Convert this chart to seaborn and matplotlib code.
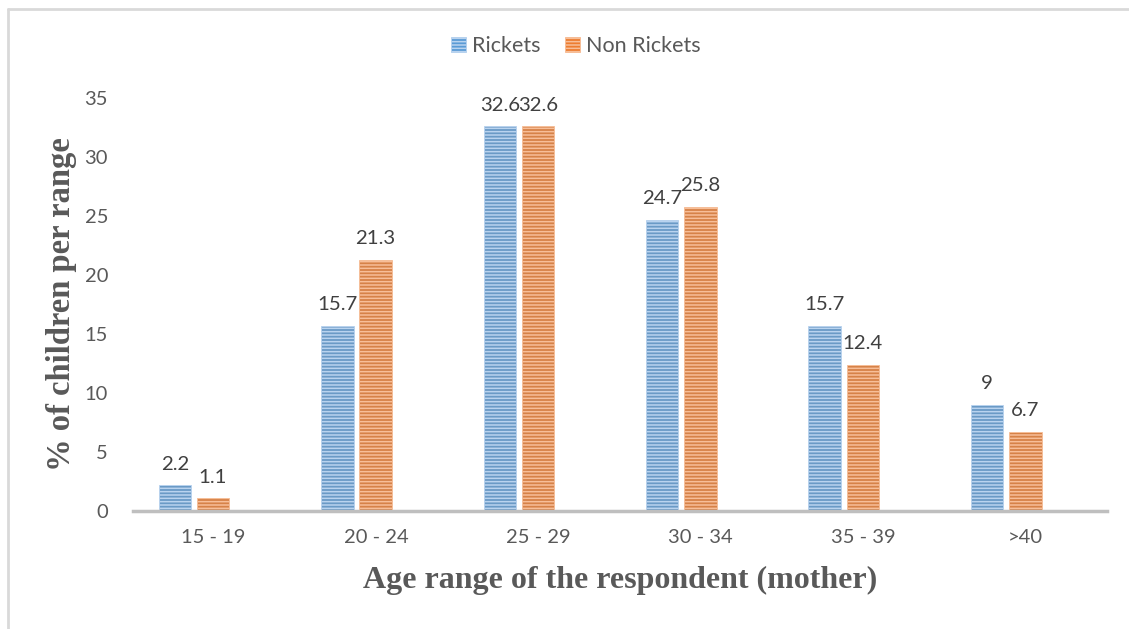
import matplotlib
matplotlib.use("Agg")
import matplotlib.pyplot as plt
from matplotlib.lines import Line2D
from matplotlib.patches import Patch
import seaborn as sns
import pandas as pd

# Data
age_ranges = ["15 - 19", "20 - 24", "25 - 29", "30 - 34", "35 - 39", ">40"]
rickets = [2.2, 15.7, 32.6, 24.7, 15.7, 9]
non_rickets = [1.1, 21.3, 32.6, 25.8, 12.4, 6.7]
groups = ["Rickets", "Non Rickets"]

df = pd.DataFrame({
    "age": age_ranges * 2,
    "pct": rickets + non_rickets,
    "group": [groups[0]] * len(age_ranges) + [groups[1]] * len(age_ranges),
})

sns.set_theme(style="white")
plt.rcParams["font.family"] = ["Lato", "DejaVu Sans"]
plt.rcParams["hatch.linewidth"] = 1.1

fill = {"Rickets": "#5B9BD5", "Non Rickets": "#ED7D31"}
stripe = {"Rickets": "#B9D3EF", "Non Rickets": "#F7BE98"}

fig = plt.figure(figsize=(11.29, 6.29), dpi=100)
ax = fig.add_axes([133 / 1129, 1 - 511 / 629, (1107 - 133) / 1129, (511 - 98) / 629])

sns.barplot(data=df, x="age", y="pct", hue="group", order=age_ranges,
            hue_order=groups, palette=fill, width=0.47, gap=0.15,
            errorbar=None, legend=False, ax=ax)

# striped fill and value labels
for container, g in zip(ax.containers, groups):
    for bar in container:
        bar.set_hatch("-----")
        bar.set_edgecolor(stripe[g])
        bar.set_linewidth(0.6)
    ax.bar_label(container, labels=[f"{v:g}" for v in container.datavalues],
                 padding=9, fontsize=14.7, color="#404040")

ax.set_ylim(0, 35)
ax.set_xlim(-0.375, 5.62)
ax.set_yticks(range(0, 36, 5))
# category labels sit at the centre of each category slot
ax.set_xticks([i + 0.12 for i in range(len(age_ranges))], age_ranges)
ax.tick_params(axis="both", length=0, labelsize=14.5, labelcolor="#595959")
ax.tick_params(axis="x", pad=13)
ax.tick_params(axis="y", pad=18)
for s in ["top", "right", "left"]:
    ax.spines[s].set_visible(False)
ax.spines["bottom"].set_color("#BFBFBF")
ax.spines["bottom"].set_linewidth(2.5)

ax.set_xlabel("Age range of the respondent (mother)", family="Liberation Serif",
              fontweight="bold", fontsize=23, color="#595959")
ax.set_ylabel("% of children per range", family="Liberation Serif",
              fontweight="bold", fontsize=23.5, color="#595959")
ax.xaxis.set_label_coords(0.5, (511 - 580) / 413)
ax.xaxis.label.set_va("center")
ax.yaxis.set_label_coords((62 - 133) / 974, 0.5)
ax.yaxis.label.set_va("center")

handles = [Patch(facecolor=fill[g], edgecolor=stripe[g], hatch="-----", linewidth=0.6)
           for g in groups]
fig.legend(handles, groups, loc="center", bbox_to_anchor=(0.51, 1 - 46 / 629),
           ncol=2, frameon=False, fontsize=15.5, labelcolor="#595959",
           handlelength=0.7, handleheight=0.7, handletextpad=0.3, columnspacing=1.1)

# outer frame
fig.add_artist(Line2D([8 / 1129, 8 / 1129], [0, 1 - 9 / 629], color="#D9D9D9", lw=2))
fig.add_artist(Line2D([8 / 1129, 1], [1 - 9 / 629, 1 - 9 / 629], color="#D9D9D9", lw=2))

fig.savefig("out.png", dpi=100)
